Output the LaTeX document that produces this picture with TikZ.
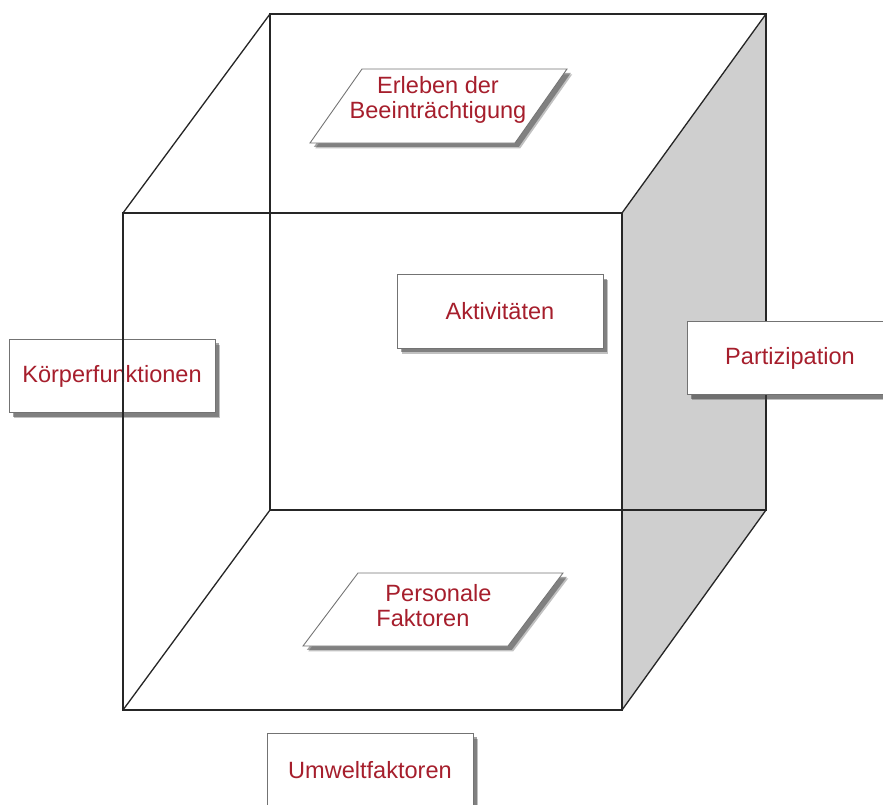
\documentclass[tikz,border=0pt]{standalone}
\usepackage{fontspec}
\setmainfont{Liberation Sans}
\usetikzlibrary{shadows}
\definecolor{labelred}{RGB}{166,30,44}
\definecolor{sidegray}{RGB}{207,207,207}
\tikzset{
  cubeedge/.style={draw=black!85, line width=0.75pt},
  card/.style={draw=black!55, line width=0.5pt, fill=white,
    drop shadow={shadow xshift=3pt, shadow yshift=-3pt, fill=black!70, opacity=0.35},
    drop shadow={shadow xshift=2.2pt, shadow yshift=-2.2pt, fill=black!80, opacity=0.45}},
  cardtext/.style={text=labelred, font=\fontsize{13.4}{14.3}\selectfont, align=center, inner sep=0pt},
  box/.style={card, cardtext, minimum width=4.12cm, minimum height=1.47cm}
}
\begin{document}
\begin{tikzpicture}[x=0.02cm, y=-0.02cm]
  \useasboundingbox (0,0) rectangle (883,805);

  % cube corners (front / back)
  \coordinate (f1) at (123,213);
  \coordinate (f2) at (622,213);
  \coordinate (f3) at (622,710);
  \coordinate (f4) at (123,710);
  \coordinate (b1) at (270,14);
  \coordinate (b2) at (766,14);
  \coordinate (b3) at (766,510);
  \coordinate (b4) at (270,510);

  % shaded right side
  \fill[sidegray] (f2) -- (b2) -- (b3) -- (f3) -- cycle;

  % this box lies under the front edge
  \node[box] (koerper) at (112,376) {Körperfunktionen};

  % cube edges
  \draw[cubeedge] (b1) -- (b2) -- (b3) -- (b4) -- cycle;
  \draw[cubeedge] (f1) -- (f2) -- (f3) -- (f4) -- cycle;
  \draw[cubeedge] (f1) -- (b1);
  \draw[cubeedge] (f2) -- (b2);
  \draw[cubeedge] (f3) -- (b3);
  \draw[cubeedge] (f4) -- (b4);

  % top and bottom cards
  \path[card] (362,69) -- (567,69) -- (515,143) -- (310,143) -- cycle;
  \node[cardtext] (erleben) at (438,100) {Erleben der\\Beeinträchtigung};
  \path[card] (358,573) -- (563,573) -- (508,646) -- (303,646) -- cycle;
  \node[cardtext, align=left] (personal) at (434,606) {\hspace*{0.18cm}Personale\\Faktoren};

  % the other boxes
  \node[box] (aktiv) at (500,311.5) {Aktivitäten};
  \node[box] (partiz) at (790,358) {Partizipation};
  \node[box] (umwelt) at (370,770) {Umweltfaktoren};
\end{tikzpicture}
\end{document}
